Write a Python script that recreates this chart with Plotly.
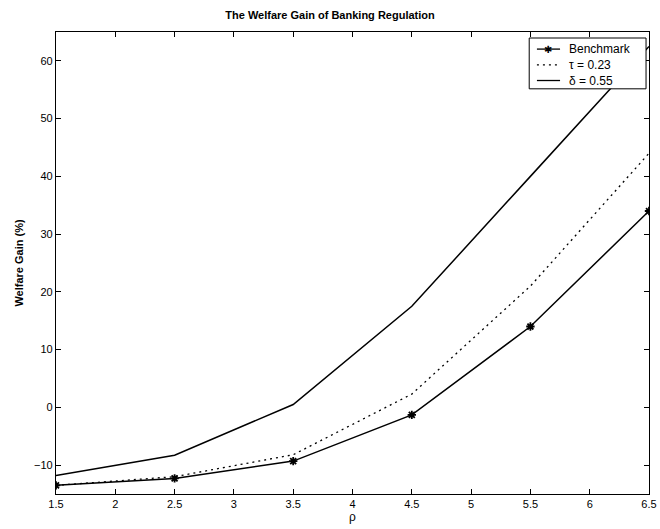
import plotly.graph_objects as go

rho = [1.5, 2.5, 3.5, 4.5, 5.5, 6.5]
benchmark = [-13.5, -12.3, -9.3, -1.3, 14.0, 34.0]
tau_023 = [-13.5, -12.0, -8.2, 2.3, 21.0, 44.0]
delta_055 = [-11.8, -8.3, 0.5, 17.5, 40.0, 62.5]

series_names = ["Benchmark", "\u03c4 = 0.23", "\u03b4 = 0.55"]

x_ticks = [1.5, 2, 2.5, 3, 3.5, 4, 4.5, 5, 5.5, 6, 6.5]
x_tick_text = ["1.5", "2", "2.5", "3", "3.5", "4", "4.5", "5", "5.5", "6", "6.5"]
y_ticks = [-10, 0, 10, 20, 30, 40, 50, 60]

font_fam = "Liberation Sans, Arial, sans-serif"

fig = go.Figure()
fig.add_trace(go.Scatter(
    x=rho, y=benchmark, name=series_names[0], mode="lines+markers",
    line=dict(color="black", width=1.5),
    marker=dict(symbol="asterisk-open", size=7, color="black", line=dict(width=1.8, color="black")),
))
fig.add_trace(go.Scatter(
    x=rho, y=tau_023, name=series_names[1], mode="lines",
    line=dict(color="black", width=1.3, dash="2px,4px"),
))
fig.add_trace(go.Scatter(
    x=rho, y=delta_055, name=series_names[2], mode="lines",
    line=dict(color="black", width=1.5),
))

axis_common = dict(
    showgrid=False, zeroline=False, showline=True, linecolor="black", linewidth=1.2,
    mirror="ticks", ticks="inside", ticklen=5, tickcolor="black", tickwidth=1,
    tickfont=dict(family=font_fam, size=11, color="black"), automargin=False,
)

# Hand-drawn legend box (MATLAB style), in plot-area paper coordinates
lx0, lx1, ly0, ly1 = 0.798, 0.995, 0.877, 0.987
rows = [0.963, 0.929, 0.895]
sx0, sx1, tx = 0.811, 0.850, 0.862
dashes = ["solid", "2px,4px", "solid"]

shapes = [dict(type="rect", xref="paper", yref="paper", x0=lx0, x1=lx1, y0=ly0, y1=ly1,
               fillcolor="white", line=dict(color="black", width=1), layer="above")]
annotations = []
for name, ry, dsh in zip(series_names, rows, dashes):
    shapes.append(dict(type="line", xref="paper", yref="paper", x0=sx0, x1=sx1, y0=ry, y1=ry,
                       line=dict(color="black", width=1.3, dash=dsh), layer="above"))
    annotations.append(dict(xref="paper", yref="paper", x=tx, y=ry, text=name, showarrow=False,
                            xanchor="left", yanchor="middle",
                            font=dict(family=font_fam, size=12, color="black")))
annotations.append(dict(xref="paper", yref="paper", x=(sx0 + sx1) / 2, y=rows[0], text="<b>\u2731</b>",
                        showarrow=False, xanchor="center", yanchor="middle",
                        font=dict(family="DejaVu Sans", size=10, color="black")))

fig.update_layout(
    width=660, height=529,
    paper_bgcolor="white", plot_bgcolor="white",
    margin=dict(l=56, r=11, t=32, b=35),
    title=dict(text="<b>The Welfare Gain of Banking Regulation</b>", x=0.5, xanchor="center",
               y=0.972, yanchor="middle",
               font=dict(family=font_fam, size=11, color="black")),
    xaxis=dict(range=[1.5, 6.5], tickvals=x_ticks, ticktext=x_tick_text,
               title=dict(text="\u03c1", standoff=0, font=dict(family=font_fam, size=12, color="black")),
               **axis_common),
    yaxis=dict(range=[-15, 65], tickvals=y_ticks,
               title=dict(text="<b>Welfare Gain (%)</b>", standoff=8, font=dict(family=font_fam, size=11, color="black")),
               **axis_common),
    shapes=shapes,
    annotations=annotations,
    showlegend=False,
)

fig.write_html("out.html", config={"displayModeBar": False},
               post_script="document.body.style.margin='0';document.body.style.padding='0';document.body.style.overflow='hidden';")
